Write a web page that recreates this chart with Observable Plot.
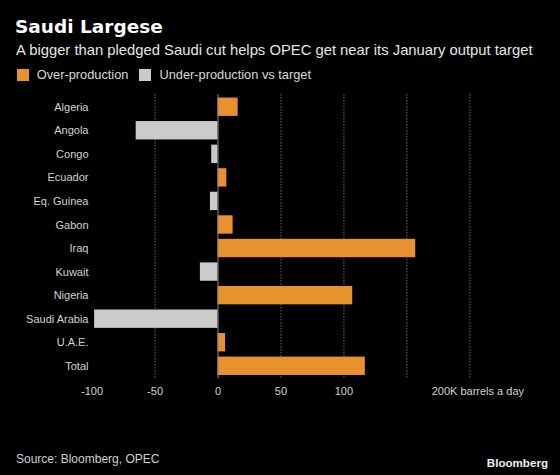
<!DOCTYPE html>
<html>
<head>
<meta charset="utf-8">
<script src="https://cdn.jsdelivr.net/npm/d3@7"></script>
<script src="https://cdn.jsdelivr.net/npm/@observablehq/plot@0.6"></script>
<style>
  html, body { margin: 0; padding: 0; background: #000; }
  #wrap { position: relative; width: 560px; height: 475px; background: #000; overflow: hidden; font-family: "Liberation Sans", Arial, sans-serif; }
  .abs { position: absolute; white-space: nowrap; }
  #title { left: 15px; top: 17.6px; font-family: "DejaVu Sans", sans-serif; font-weight: bold; font-size: 18.5px; line-height: 18.5px; color: #fff; }
  #subtitle { left: 16px; top: 42.5px; font-size: 14.8px; line-height: 14.8px; color: #e6e6e6; }
  #legend { left: 16.7px; top: 69.3px; display: flex; align-items: center; font-size: 12.8px; line-height: 12px; color: #d8d8d8; }
  .sw { width: 12px; height: 12px; margin-right: 8px; }
  .item { display: flex; align-items: center; margin-right: 11px; }
  #chart { position: absolute; left: 0; top: 85px; }
  #source { left: 16px; top: 453px; font-size: 12px; line-height: 12px; color: #cfcfcf; }
  #logo { right: 12px; top: 457px; font-weight: bold; font-size: 11.6px; line-height: 11.6px; color: #f0f0f0; }
</style>
</head>
<body>
<div id="wrap">
  <div id="title" class="abs">Saudi Largese</div>
  <div id="subtitle" class="abs">A bigger than pledged Saudi cut helps OPEC get near its January output target</div>
  <div id="legend" class="abs"></div>
  <div id="chart"></div>
  <div id="source" class="abs">Source: Bloomberg, OPEC</div>
  <div id="logo" class="abs">Bloomberg</div>
</div>
<script>
const countries = ["Algeria", "Angola", "Congo", "Ecuador", "Eq. Guinea", "Gabon", "Iraq", "Kuwait", "Nigeria", "Saudi Arabia", "U.A.E.", "Total"];
const values = [16, -65, -5, 7, -6, 12, 157, -14, 107, -98, 6, 117];
const seriesNames = ["Over-production", "Under-production vs target"];
const seriesColors = ["#e8922e", "#cbcbcb"];
const xTicks = [-100, -50, 0, 50, 100];
const gridTicks = [-50, 50, 100, 150, 200];
const unitTick = [200];
const unitLabel = "200K barrels a day";

const data = countries.map((c, i) => ({country: c, value: values[i], series: values[i] >= 0 ? seriesNames[0] : seriesNames[1]}));

// legend
const legend = document.getElementById("legend");
seriesNames.forEach((name, i) => {
  const item = document.createElement("div");
  item.className = "item";
  const sw = document.createElement("div");
  sw.className = "sw";
  sw.style.background = seriesColors[i];
  const t = document.createElement("span");
  t.textContent = name;
  item.appendChild(sw);
  item.appendChild(t);
  legend.appendChild(item);
});

const chart = Plot.plot({
  width: 560,
  height: 330,
  marginTop: 9,
  marginBottom: 36.5,
  marginLeft: 91.6,
  marginRight: 27.7,
  style: {background: "transparent", color: "#d2d2d2", fontFamily: "Liberation Sans, Arial, sans-serif", fontSize: "11px"},
  x: {domain: [-100, 250]},
  y: {domain: countries, paddingInner: 0.22, paddingOuter: 0.15, round: false},
  color: {domain: seriesNames, range: seriesColors},
  marks: [
    Plot.ruleX(gridTicks, {stroke: "#6e6e6e", strokeDasharray: "1.5,1.5", strokeWidth: 1}),
    Plot.barX(data, {x: "value", y: "country", fill: "series"}),
    Plot.ruleX([0], {stroke: "#8a8a8a", strokeWidth: 1}),
    Plot.axisY({tickSize: 0, tickPadding: 3.6, label: null}),
    Plot.axisX(xTicks, {tickSize: 0, tickPadding: 7.7, label: null, tickFormat: d => String(d)}),
    Plot.axisX(unitTick, {tickSize: 0, tickPadding: 7.7, label: null, tickFormat: () => unitLabel, dx: 8})
  ]
});
document.getElementById("chart").appendChild(chart);
</script>
</body>
</html>
